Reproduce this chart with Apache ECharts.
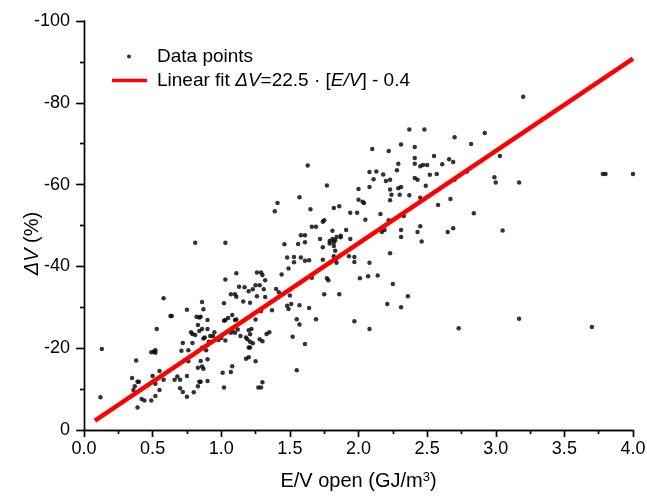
<!DOCTYPE html>
<html>
<head>
<meta charset="utf-8">
<script src="https://cdn.jsdelivr.net/npm/echarts@6/dist/echarts.min.js"></script>
<style>
  html, body { margin: 0; padding: 0; background: #fff; }
  #chart { width: 647px; height: 497px; }
</style>
</head>
<body>
<div id="chart"></div>
<script>
// measured points [E/V open, dV %]
const points = [
  [0.58,-32.2],[0.13,-19.8],[0.12,-8.0],[0.63,-27.9],[0.64,-27.9],[0.75,-29.4],[0.53,-24.7],[0.49,-19.0],
  [0.51,-19.2],[0.52,-19.5],[0.52,-18.9],[0.38,-17.0],[0.35,-12.7],[0.39,-11.8],[0.40,-11.8],[0.37,-10.7],
  [0.36,-9.8],[0.50,-13.2],[0.55,-14.4],[0.58,-12.3],[0.52,-11.3],[0.55,-9.8],[0.52,-8.3],[0.42,-7.6],
  [0.44,-7.2],[0.49,-7.2],[0.39,-5.5],[0.68,-13.1],[0.66,-12.3],[0.70,-12.3],[0.75,-13.2],[0.70,-10.2],
  [0.72,-9.3],[0.75,-8.1],[0.80,-9.2],[0.83,-10.7],[0.84,-11.8],[0.76,-16.8],[0.71,-19.4],[0.72,-21.3],
  [0.76,-19.5],[0.79,-21.3],[0.83,-15.2],[0.85,-16.9],[0.78,-23.9],[0.79,-23.5],[0.81,-23.2],[0.84,-24.2],
  [0.83,-25.7],[0.82,-27.7],[0.84,-27.5],[0.81,-45.8],
  [1.03,-45.8],[1.46,-45.4],[1.11,-38.3],[1.03,-36.8],[1.26,-38.5],[1.29,-38.5],[1.30,-37.9],[1.32,-36.6],
  [1.44,-38.0],[1.48,-42.2],[1.49,-39.5],[1.13,-35.0],[1.17,-34.9],[1.20,-33.9],[1.23,-34.4],[1.25,-35.4],
  [1.28,-35.4],[1.31,-34.4],[1.07,-33.2],[1.10,-33.2],[1.11,-32.6],[1.16,-31.4],[1.21,-31.1],[1.26,-32.7],
  [1.32,-32.5],[1.40,-34.5],[1.42,-33.7],[1.02,-31.0],[0.86,-31.3],[0.87,-29.5],[0.85,-27.7],[0.90,-26.9],
  [0.90,-24.7],[0.86,-24.7],[0.95,-23.9],[0.92,-23.0],[0.94,-23.0],[0.87,-22.4],[0.88,-22.6],[0.91,-21.6],
  [0.86,-20.1],[0.89,-19.5],[0.90,-17.3],[0.86,-15.5],[0.87,-15.0],[0.90,-12.0],[0.85,-11.8],[0.98,-22.0],
  [1.00,-22.5],[1.03,-21.9],[1.02,-26.7],[1.03,-26.9],[1.05,-27.4],[1.08,-28.1],[1.10,-26.9],[1.11,-27.0],
  [1.08,-24.3],[1.07,-23.8],[1.10,-23.8],[1.12,-24.6],[1.14,-23.0],[1.18,-22.6],[1.19,-22.2],[1.20,-24.4],
  [1.22,-24.7],[1.21,-23.4],[1.25,-27.0],[1.29,-29.1],[1.37,-29.3],[1.21,-21.6],[1.23,-21.2],[1.20,-20.2],
  [1.21,-20.2],[1.28,-22.2],[1.30,-21.7],[1.33,-23.5],[1.35,-23.9],[1.18,-17.4],[1.20,-17.8],[1.25,-16.8],
  [1.08,-15.6],[1.01,-14.0],[1.07,-14.2],[1.02,-10.4],[1.27,-10.4],[1.29,-10.4],[1.30,-11.7],[1.48,-30.4],
  [1.49,-29.6],[1.39,-53.5],[1.41,-55.5],
  [1.63,-64.7],[1.77,-59.8],[1.57,-56.9],[1.65,-54.0],[1.82,-54.3],[1.86,-54.7],[1.94,-53.1],[1.99,-53.1],
  [2.00,-56.3],[2.03,-55.8],[2.04,-55.5],[2.00,-58.9],[2.08,-59.4],[2.05,-51.4],[2.08,-63.1],[2.13,-63.2],
  [2.11,-61.3],[1.74,-50.9],[1.75,-51.3],[1.66,-49.7],[1.69,-49.7],[1.81,-48.7],[1.91,-48.9],[1.58,-47.6],
  [1.61,-47.6],[1.56,-45.5],[1.61,-45.9],[1.72,-46.7],[1.79,-46.2],[1.81,-46.7],[1.83,-46.4],[1.84,-47.2],
  [1.87,-47.5],[1.87,-47.1],[1.79,-45.6],[1.82,-45.0],[1.82,-45.9],[1.74,-44.7],[1.94,-46.7],[1.83,-43.8],
  [1.53,-42.3],[1.53,-41.0],[1.58,-42.2],[1.61,-41.4],[1.64,-41.5],[1.74,-41.6],[1.82,-42.5],[1.83,-41.5],
  [1.79,-40.9],[1.84,-40.9],[1.93,-42.5],[1.97,-42.3],[1.97,-41.1],[2.08,-40.9],[2.01,-37.1],[2.07,-37.6],
  [2.14,-37.8],[1.66,-37.2],[1.77,-37.1],[1.78,-36.6],[1.75,-33.2],[1.86,-33.2],[1.50,-32.9],[1.51,-30.8],
  [1.57,-30.5],[1.64,-29.8],[1.55,-27.1],[1.57,-25.8],[1.69,-27.1],[1.97,-26.6],[2.08,-24.7],[2.10,-68.7],
  [1.52,-22.8],[1.61,-21.0],[1.55,-14.6],
  [2.37,-73.5],[2.48,-73.5],[2.70,-71.6],[2.92,-72.6],[2.82,-69.9],[2.22,-68.2],[2.31,-69.8],[2.41,-69.2],
  [2.41,-66.5],[2.41,-65.1],[2.29,-65.1],[2.28,-63.5],[2.45,-64.5],[2.47,-64.8],[2.50,-64.8],[2.55,-67.0],
  [2.61,-65.0],[2.66,-66.2],[2.69,-65.5],[3.03,-67.0],[2.18,-62.5],[2.20,-60.9],[2.23,-61.2],[2.41,-61.6],
  [2.43,-61.2],[2.52,-62.4],[2.57,-62.6],[2.79,-63.2],[2.70,-61.2],[2.99,-61.8],[3.00,-60.5],[2.23,-58.8],
  [2.29,-59.1],[2.31,-59.4],[2.49,-59.7],[2.24,-57.5],[2.30,-57.5],[2.37,-57.4],[2.23,-56.2],[2.45,-56.8],
  [2.67,-56.5],[2.58,-55.0],[2.84,-53.0],[2.16,-52.8],[2.33,-52.3],[2.22,-51.3],[2.45,-49.8],[2.17,-48.4],
  [2.19,-48.9],[2.31,-48.9],[2.31,-47.2],[2.43,-48.4],[2.46,-46.1],[2.65,-48.4],[2.69,-49.3],[3.05,-48.8],
  [2.23,-43.2],[2.25,-35.7],[2.36,-32.7],[2.21,-30.8],[2.31,-30.0],[2.73,-24.9],
  [3.20,-81.5],[3.17,-60.5],[3.78,-62.6],[3.80,-62.6],[4.00,-62.6],[3.17,-27.2],[3.70,-25.2]
];

// linear fit end points
const fitX = [0.08, 4.0];
const fitY = [-2.3, -90.8];

const FONT = 'Liberation Sans, Arial, sans-serif';

var chart = echarts.init(document.getElementById('chart'));

var tickStyle = { color: '#000', width: 1.4 };

var option = {
    animation: false,
    grid: { left: 84, right: 14, top: 21, bottom: 67, outerBoundsMode: 'none' },
    legend: [{
        data: ['Data points'],
        icon: 'circle',
        itemWidth: 4,
        itemHeight: 4,
        padding: 0,
        left: 127,
        top: 47,
        textStyle: { fontSize: 19, fontFamily: FONT, color: '#000', padding: [0, 0, 0, 21] }
    }, {
        data: ['Linear fit'],
        icon: 'rect',
        itemWidth: 35,
        itemHeight: 3.5,
        padding: 0,
        left: 112,
        top: 71,
        formatter: function () {
            return 'Linear fit {i|ΔV}=22.5 · [{i|E/V}] - 0.4';
        },
        textStyle: {
            fontSize: 19, fontFamily: FONT, color: '#000', padding: [0, 0, 0, 5],
            rich: { i: { fontSize: 19, fontFamily: FONT, color: '#000', fontStyle: 'italic' } }
        }
    }],
    xAxis: [{
        type: 'value', min: 0, max: 4, interval: 0.5, position: 'bottom',
        axisLine: { lineStyle: tickStyle },
        axisTick: { length: 7, lineStyle: tickStyle },
        minorTick: { show: true, splitNumber: 2, length: 4, lineStyle: tickStyle },
        splitLine: { show: false },
        axisLabel: {
            color: '#000', fontSize: 18, fontFamily: FONT, margin: 10,
            formatter: function (v) { return v.toFixed(1); }
        },
        name: 'E/V open (GJ/m{sup|3})',
        nameLocation: 'middle',
        nameGap: 41,
        nameMoveOverlap: false,
        nameTextStyle: {
            color: '#000', fontSize: 20, fontFamily: FONT,
            rich: { sup: { fontSize: 13, fontFamily: FONT, color: '#000', verticalAlign: 'top' } }
        }
    }, {
        type: 'value', min: 0, max: 4, interval: 0.5, position: 'top',
        axisLine: { lineStyle: tickStyle },
        axisTick: { inside: true, length: 7, lineStyle: tickStyle },
        minorTick: { show: true, splitNumber: 2, length: 4, lineStyle: tickStyle },
        splitLine: { show: false },
        axisLabel: { show: false }
    }],
    yAxis: [{
        type: 'value', min: -100, max: 0, interval: 20, inverse: true, position: 'left',
        axisLine: { lineStyle: tickStyle },
        axisTick: { length: 8, lineStyle: tickStyle },
        minorTick: { show: true, splitNumber: 2, length: 4, lineStyle: tickStyle },
        splitLine: { show: false },
        axisLabel: { color: '#000', fontSize: 18, fontFamily: FONT, margin: 14 },
        name: '{i|ΔV} (%)',
        nameLocation: 'middle',
        nameGap: 42,
        nameMoveOverlap: false,
        nameTextStyle: {
            color: '#000', fontSize: 20, fontFamily: FONT, padding: [0, 36, 0, 0],
            rich: { i: { fontSize: 20, fontFamily: FONT, color: '#000', fontStyle: 'italic' } }
        }
    }, {
        type: 'value', min: -100, max: 0, interval: 20, inverse: true, position: 'right',
        axisLine: { lineStyle: tickStyle },
        axisTick: { inside: true, length: 7, lineStyle: tickStyle },
        minorTick: { show: true, splitNumber: 2, length: 4, lineStyle: tickStyle },
        splitLine: { show: false },
        axisLabel: { show: false }
    }],
    series: [{
        name: 'Data points',
        type: 'scatter',
        data: points,
        symbolSize: 4.5,
        itemStyle: { color: '#000' },
        z: 2
    }, {
        name: 'Linear fit',
        type: 'line',
        data: fitX.map(function (x, i) { return [x, fitY[i]]; }),
        showSymbol: false,
        symbol: 'none',
        lineStyle: { color: '#ff0000', width: 4.5 },
        itemStyle: { color: '#ff0000' },
        z: 3
    }]
};

chart.setOption(option);
</script>
</body>
</html>
